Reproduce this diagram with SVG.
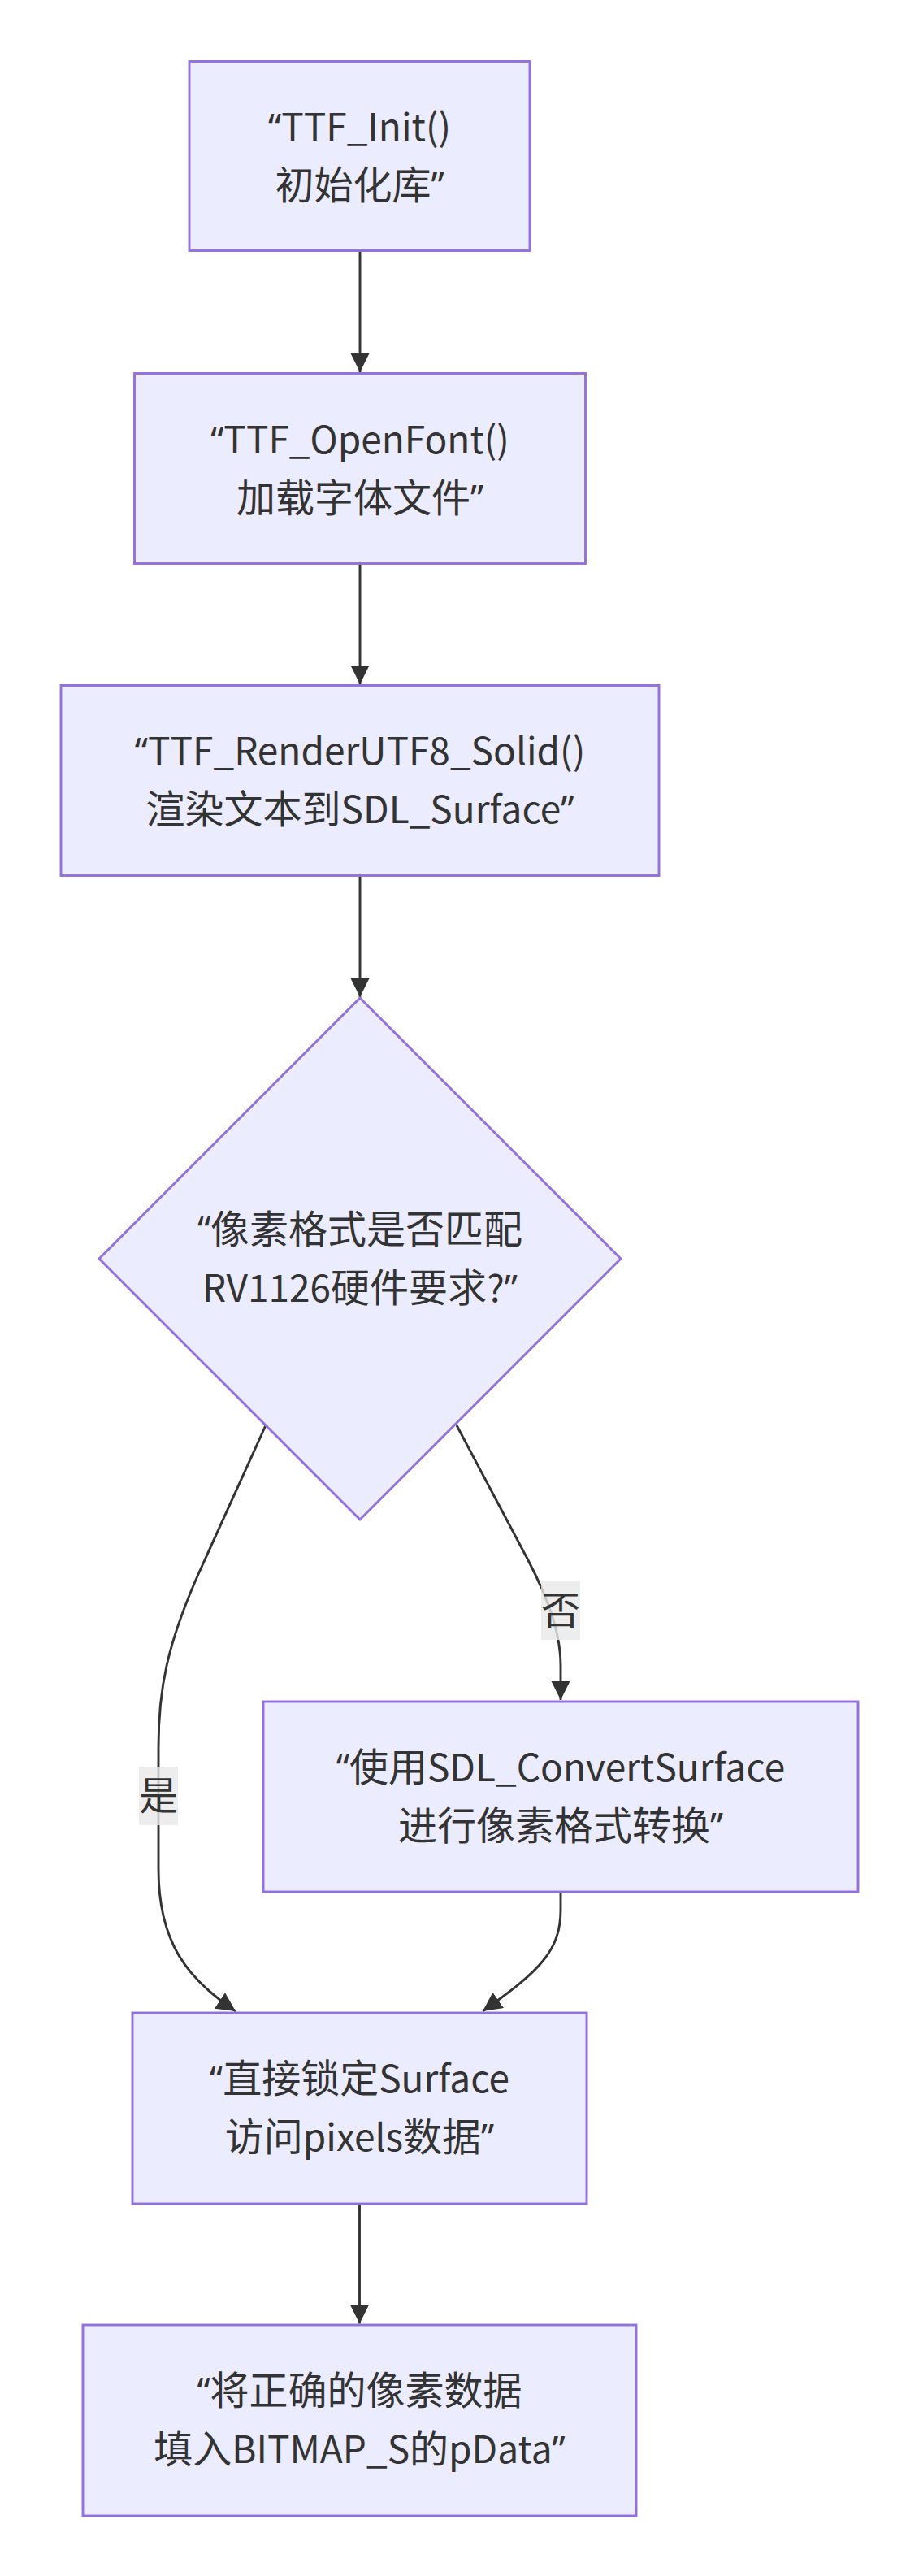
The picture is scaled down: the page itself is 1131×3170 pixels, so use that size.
<svg xmlns="http://www.w3.org/2000/svg" width="1131" height="3170" viewBox="0 0 1131 3170">
<style>
.node rect,.node polygon{fill:#ECECFF;stroke:#9370DB;stroke-width:2.9}
.node text,.lbl text{font-family:"Noto Sans CJK SC","Noto Sans",sans-serif;font-size:48px;fill:#333333;text-anchor:middle}
.l{font-size:46px}
.q{font-family:"Noto Sans",sans-serif;font-size:45px}
.edge{fill:none;stroke:#333333;stroke-width:2.9;marker-end:url(#arr)}
.lbl rect{fill:#E8E8E8;fill-opacity:0.8}
</style>
<defs>
<marker id="arr" viewBox="0 0 10 10" refX="10" refY="5" markerUnits="userSpaceOnUse" markerWidth="23.5" markerHeight="23.5" orient="auto">
<path d="M0,0 L10,5 L0,10 z" fill="#333333"/>
</marker>
</defs>
<rect width="1131" height="3170" fill="#ffffff"/>
<g id="connectors">
<path class="edge" d="M443,309.5 L443,458"/>
<path class="edge" d="M443,694 L443,842"/>
<path class="edge" d="M443,1078 L443,1227"/>
<path class="edge" d="M562,1754 L650,1920 C675,1968 690,2010 690,2050 L690,2092"/>
<path class="edge" d="M327,1754 L245,1935 C205,2025 195,2080 195,2150 L195,2300 C195,2390 230,2435 290,2475"/>
<path class="edge" d="M690,2328 L690,2350 C690,2400 665,2425 594,2475"/>
<path class="edge" d="M442.5,2712 L442.5,2859.5"/>
</g>
<g id="label-no" class="lbl">
<rect x="666" y="1946" width="48" height="72"/>
<text x="690" y="1999">否</text>
</g>
<g id="label-yes" class="lbl">
<rect x="171" y="2174" width="48" height="72"/>
<text x="195" y="2227">是</text>
</g>
<g id="n1" class="node">
<rect x="233" y="75.5" width="419" height="233"/>
<text x="442.5" y="173"><tspan class="q">“</tspan><tspan class="l">TTF_Init()</tspan></text>
<text x="442.5" y="245">初始化库<tspan class="q">”</tspan></text>
</g>
<g id="n2" class="node">
<rect x="165.5" y="459.5" width="555" height="234"/>
<text x="443" y="558"><tspan class="q">“</tspan><tspan class="l">TTF_OpenFont()</tspan></text>
<text x="443" y="630">加载字体文件<tspan class="q">”</tspan></text>
</g>
<g id="n3" class="node">
<rect x="75" y="843.5" width="736" height="234"/>
<text x="443" y="941"><tspan class="q">“</tspan><tspan class="l">TTF_RenderUTF8_Solid()</tspan></text>
<text x="443" y="1013">渲染文本到<tspan class="l">SDL_Surface</tspan><tspan class="q">”</tspan></text>
</g>
<g id="n4" class="node">
<polygon points="443,1228 764,1549 443,1870 122,1549"/>
<text x="443" y="1530"><tspan class="q">“</tspan>像素格式是否匹配</text>
<text x="443" y="1602"><tspan class="l">RV1126</tspan>硬件要求<tspan class="l">?</tspan><tspan class="q">”</tspan></text>
</g>
<g id="n5" class="node">
<rect x="324" y="2094" width="732" height="234"/>
<text x="690" y="2192"><tspan class="q">“</tspan>使用<tspan class="l">SDL_ConvertSurface</tspan></text>
<text x="690" y="2264">进行像素格式转换<tspan class="q">”</tspan></text>
</g>
<g id="n6" class="node">
<rect x="163" y="2477" width="559" height="235"/>
<text x="442.5" y="2575"><tspan class="q">“</tspan>直接锁定<tspan class="l">Surface</tspan></text>
<text x="442.5" y="2647">访问<tspan class="l">pixels</tspan>数据<tspan class="q">”</tspan></text>
</g>
<g id="n7" class="node">
<rect x="102" y="2861" width="681" height="235"/>
<text x="442.5" y="2959"><tspan class="q">“</tspan>将正确的像素数据</text>
<text x="442.5" y="3031">填入<tspan class="l">BITMAP_S</tspan>的<tspan class="l">pData</tspan><tspan class="q">”</tspan></text>
</g>
</svg>
